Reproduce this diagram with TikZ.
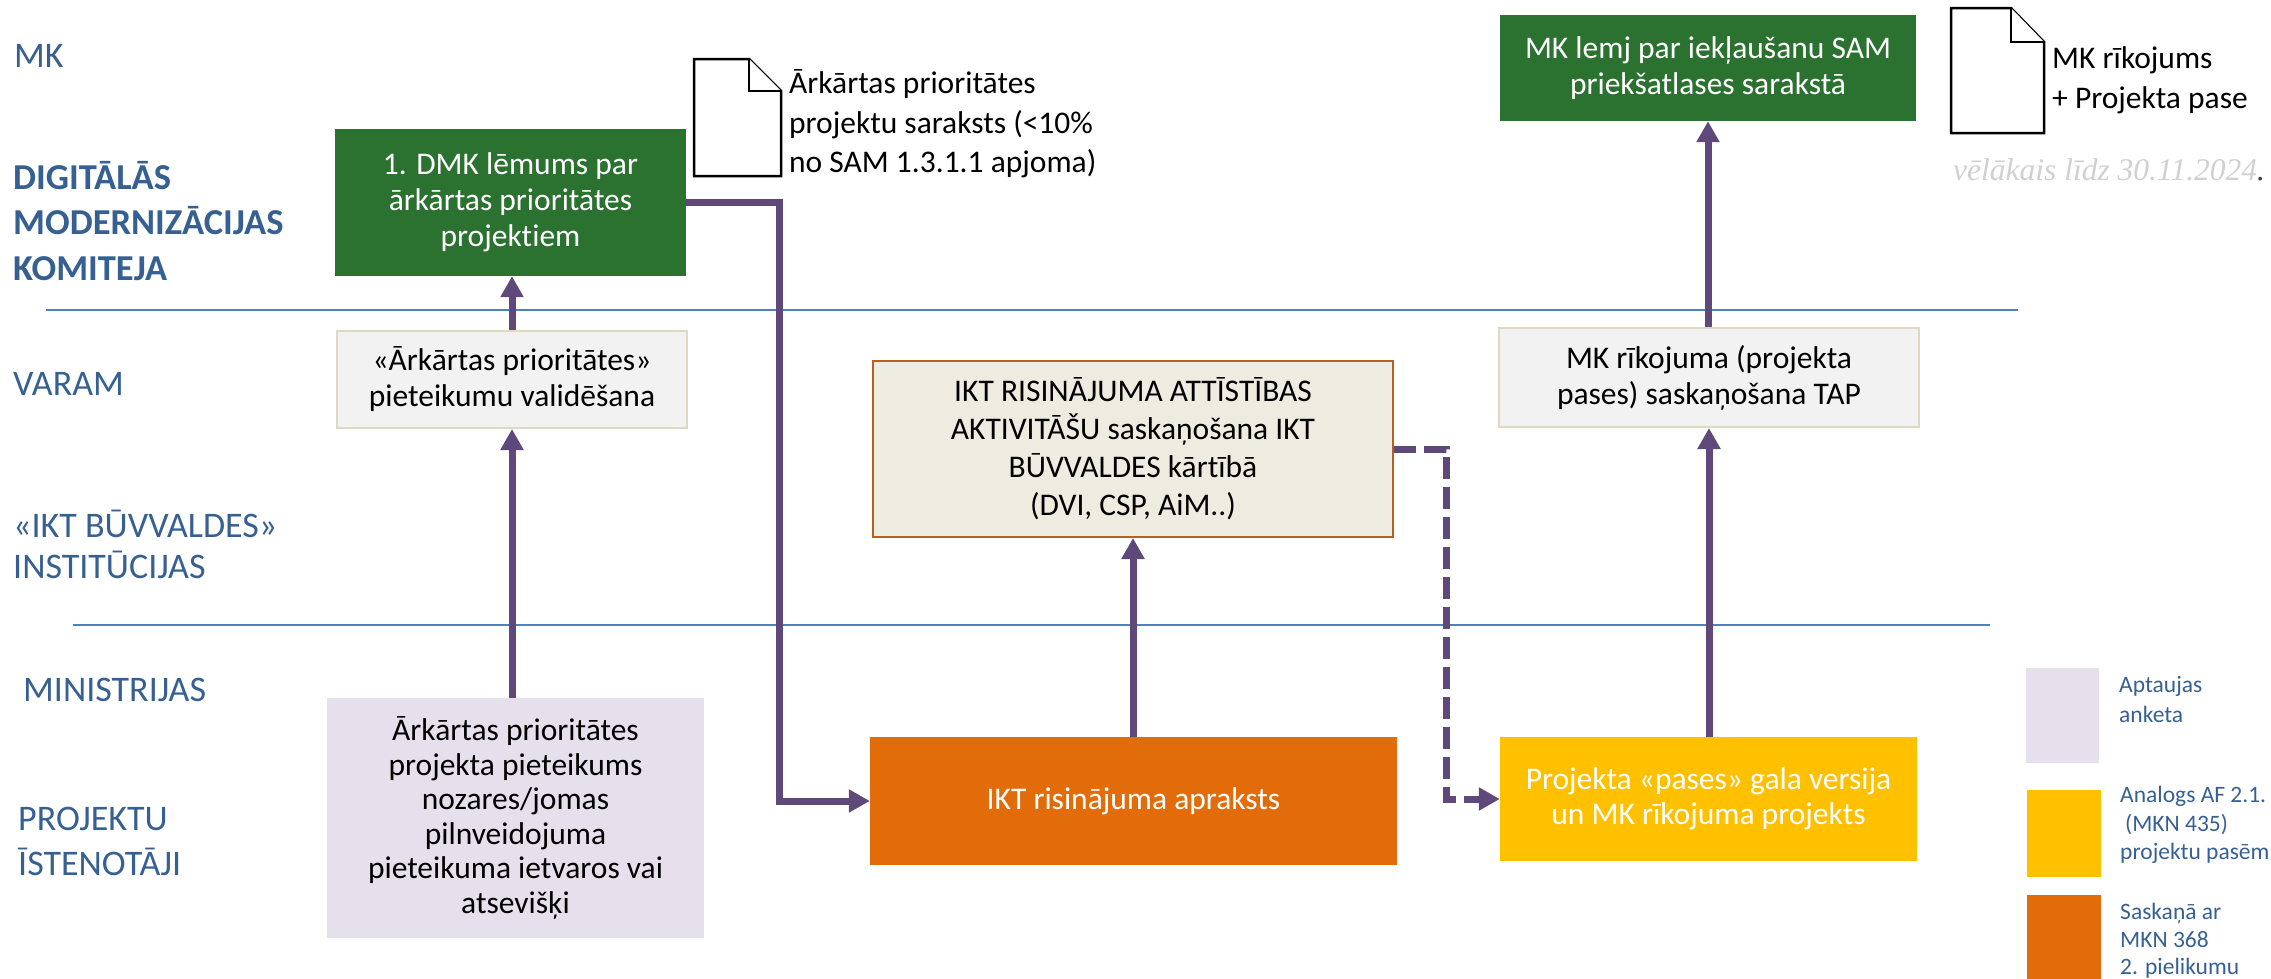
\documentclass[tikz,border=0pt]{standalone}
\usepackage{fontspec}
\setmainfont{Carlito}[Ligatures={NoCommon}]
\newfontfamily\datefont{Liberation Serif}
\usepackage{tikz}
\usetikzlibrary{positioning, arrows.meta}

\definecolor{lanetext}{HTML}{376092}
\definecolor{laneline}{HTML}{4F81BD}
\definecolor{flow}{HTML}{5F497A}
\definecolor{dmkgreen}{HTML}{2B7230}
\definecolor{iktorange}{HTML}{E36C0A}
\definecolor{paseyellow}{HTML}{FFC000}
\definecolor{lilac}{HTML}{E5E0EC}
\definecolor{greybox}{HTML}{F2F2F2}
\definecolor{greyedge}{HTML}{DDD9C3}
\definecolor{iktfill}{HTML}{EEECE1}
\definecolor{iktedge}{HTML}{B8601F}
\definecolor{datecol}{HTML}{D0D0D0}

\begin{document}
\begin{tikzpicture}[x=1pt, y=-1pt,
    lane/.style={lanetext, inner sep=0pt, align=left, font=\fontsize{36}{45}\selectfont},
    box/.style={inner sep=0pt, align=center, font=\fontsize{31.5}{36}\selectfont},
    legendtext/.style={lanetext, inner sep=0pt, align=left, anchor=west, font=\fontsize{23}{29}\selectfont},
    sheet/.style={draw=black, fill=white, line width=2.5pt, line join=miter},
    sep/.style={laneline, line width=2pt},
    flowarr/.style={flow, line width=7pt, -{Triangle[length=21pt, width=22pt]}}]
    \useasboundingbox (0,0) rectangle (2271,978);

    % lanes
    \draw[sep] (46,310) -- (2018,310);
    \draw[sep] (73,625) -- (1990,625);
    \node[lane, anchor=base west] (mk) at (14,67) {MK};
    \node[lane, anchor=west, font=\bfseries\fontsize{36.5}{45.5}\selectfont] (dmklane) at (13,221) {DIGITĀLĀS\\MODERNIZĀCIJAS\\KOMITEJA};
    \node[lane, anchor=base west] (varamlane) at (13,395) {VARAM};
    \node[lane, anchor=west, font=\fontsize{36}{41}\selectfont] (iktlane) at (13,544) {«IKT BŪVVALDES»\\INSTITŪCIJAS};
    \node[lane, anchor=base west] (minlane) at (23,701) {MINISTRIJAS};
    \node[lane, anchor=west] (istlane) at (18,841) {PROJEKTU\\ĪSTENOTĀJI};

    % process boxes
    \node[box, fill=dmkgreen, text=white, minimum width=351pt, minimum height=147pt] (dmk) at (510.5,202.5) {1. DMK lēmums par\\ārkārtas prioritātes\\projektiem};
    \node[box, fill=dmkgreen, text=white, minimum width=416pt, minimum height=106pt] (mklemj) at (1708,68) {MK lemj par iekļaušanu SAM\\priekšatlases sarakstā};
    \node[box, fill=greybox, draw=greyedge, line width=2pt, minimum width=350pt, minimum height=97pt] (varam) at (512,379.5) {«Ārkārtas prioritātes»\\pieteikumu validēšana};
    \node[box, fill=greybox, draw=greyedge, line width=2pt, minimum width=420pt, minimum height=99pt] (tap) at (1709,377.5) {MK rīkojuma (projekta\\pases) saskaņošana TAP};
    \node[box, fill=iktfill, draw=iktedge, line width=2pt, minimum width=520pt, minimum height=176pt, font=\fontsize{31.5}{38}\selectfont] (ikt) at (1133,449) {IKT RISINĀJUMA ATTĪSTĪBAS\\AKTIVITĀŠU saskaņošana IKT\\BŪVVALDES kārtībā\\(DVI, CSP, AiM..)};
    \node[box, fill=lilac, minimum width=377pt, minimum height=240pt, font=\fontsize{31.5}{34.5}\selectfont] (pieteikums) at (515.5,818) {Ārkārtas prioritātes\\projekta pieteikums\\nozares/jomas\\pilnveidojuma\\pieteikuma ietvaros vai\\atsevišķi};
    \node[box, fill=iktorange, text=white, minimum width=527pt, minimum height=128pt] (apraksts) at (1133.5,801) {IKT risinājuma apraksts};
    \node[box, fill=paseyellow, text=white, minimum width=417pt, minimum height=124pt, font=\fontsize{31.5}{35}\selectfont] (pase) at (1708.5,799) {Projekta «pases» gala versija\\un MK rīkojuma projekts};

    % documents
    \draw[sheet] (694,59) -- (749,59) -- (781,91) -- (781,176) -- (694,176) -- cycle;
    \draw[sheet] (749,59) -- (749,91) -- (781,91);
    \node[box, anchor=west, align=left, font=\fontsize{31.5}{39.5}\selectfont] (saraksts) at (789,124) {Ārkārtas prioritātes\\projektu saraksts (<10\%\\no SAM 1.3.1.1 apjoma)};
    \draw[sheet] (1951,8) -- (2011,8) -- (2044,42) -- (2044,133) -- (1951,133) -- cycle;
    \draw[sheet] (2011,8) -- (2011,42) -- (2044,42);
    \node[box, anchor=west, align=left, font=\fontsize{31.5}{40}\selectfont] (rikojums) at (2052,80) {MK rīkojums\\+ Projekta pase};
    \node[anchor=base west, inner sep=0pt, text=datecol, font=\datefont\itshape\fontsize{31.5}{36}\selectfont] (termins) at (1953,180) {vēlākais līdz 30.11.2024\textcolor{black!75}{.}};

    % legend
    \fill[lilac] (2026,668) rectangle (2099,763);
    \fill[paseyellow] (2027,790) rectangle (2101,877);
    \fill[iktorange] (2027,895) rectangle (2101,990);
    \node[legendtext, font=\fontsize{23.5}{30}\selectfont] (leg1) at (2119,699) {Aptaujas\\anketa};
    \node[legendtext, font=\fontsize{23.5}{28.5}\selectfont] (leg2) at (2120,825) {Analogs AF 2.1.\\\hspace*{5pt}(MKN 435)\\projektu pasēm};
    \node[legendtext, font=\fontsize{23.5}{27.5}\selectfont] (leg3) at (2120,941) {Saskaņā ar\\MKN 368\\2. pielikumu};

    % flow
    \coordinate (turn) at (779,0);
    \coordinate (dturn) at (1446,0);
    \draw[flowarr] (pieteikums.north -| varam.south) -- (varam.south);
    \draw[flowarr] (varam.north) -- (dmk.south -| varam.north);
    \draw[flowarr] (dmk.east) -- (dmk.east -| turn) |- (apraksts.west);
    \draw[flowarr] (apraksts.north -| ikt.south) -- (ikt.south);
    \draw[flowarr, dash pattern=on 22pt off 8pt] (ikt.east) -- (ikt.east -| dturn) |- (pase.west);
    \draw[flowarr] (pase.north -| tap.south) -- (tap.south);
    \draw[flowarr] (tap.north -| mklemj.south) -- (mklemj.south);
\end{tikzpicture}
\end{document}
